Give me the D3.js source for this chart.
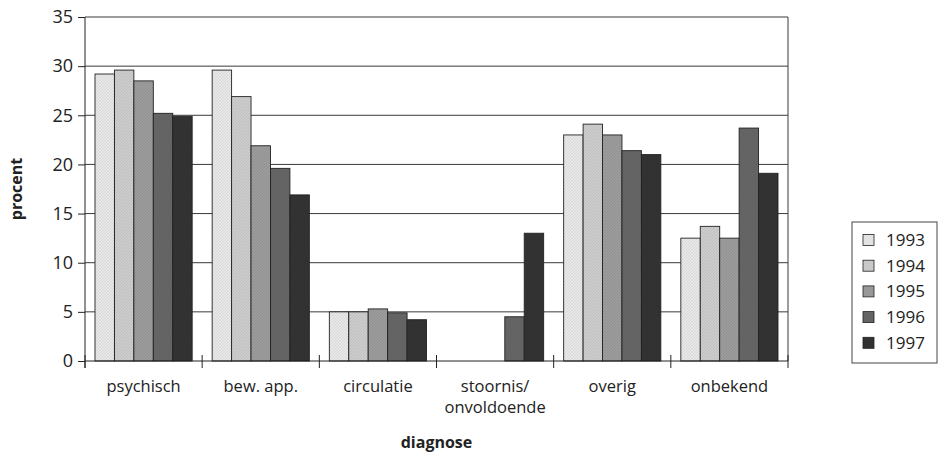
<!DOCTYPE html>
<html><head><meta charset="utf-8">
<script src="https://cdn.jsdelivr.net/npm/d3@7"></script>
<style>body{margin:0;background:#fff}svg{display:block}text{font-family:"Open Sans",sans-serif;fill:#222}</style>
</head><body><svg id="c" width="938" height="458"></svg>
<script>
const categories = ["psychisch","bew. app.","circulatie","stoornis/\nonvoldoende","overig","onbekend"];
const years = ["1993","1994","1995","1996","1997"];
const v1993 = [29.2, 29.6, 5.0, 0, 23.0, 12.5];
const v1994 = [29.6, 26.9, 5.0, 0, 24.1, 13.7];
const v1995 = [28.5, 21.9, 5.3, 0, 23.0, 12.5];
const v1996 = [25.2, 19.6, 4.9, 4.5, 21.4, 23.7];
const v1997 = [24.9, 16.9, 4.2, 13.0, 21.0, 19.1];
const yTicks = [0,5,10,15,20,25,30,35];
const colors = ["#e8e8e8","#cdcdcd","#9c9c9c","#666666","#333333"];

const series = [v1993,v1994,v1995,v1996,v1997];
const svg = d3.select("#c");
const L=85, R=788, T=17, B=361;
const x = d3.scaleBand().domain(categories).range([L,R]).paddingInner(0).paddingOuter(0);
const x1 = d3.scaleBand().domain(years).range([10, x.bandwidth()-10]).padding(0);
const y = d3.scaleLinear().domain([0,35]).range([B,T]);

const defs = svg.append("defs");
colors.forEach((c,i)=>{
  const p = defs.append("pattern").attr("id","p"+i).attr("width",3).attr("height",3).attr("patternUnits","userSpaceOnUse");
  p.append("rect").attr("width",3).attr("height",3).attr("fill",c);
  p.append("path").attr("d","M0,3L3,0").attr("stroke", d3.color(c).darker(0.3)).attr("stroke-width",0.7);
});

svg.append("g").selectAll("line").data(yTicks.filter(d=>d>0)).join("line")
  .attr("x1",L).attr("x2",R).attr("y1",d=>y(d)).attr("y2",d=>y(d))
  .attr("stroke","#3a3a3a").attr("stroke-width",1);
svg.append("line").attr("x1",R).attr("x2",R).attr("y1",T).attr("y2",B).attr("stroke","#3a3a3a");

const g = svg.append("g");
categories.forEach((cat,ci)=>{
  years.forEach((yr,si)=>{
    const v = series[si][ci];
    if(v<=0) return;
    g.append("rect").attr("x",x(cat)+x1(yr)).attr("y",y(v)).attr("width",x1.bandwidth()).attr("height",B-y(v))
      .attr("fill","url(#p"+si+")").attr("stroke","#222").attr("stroke-width",0.9);
  });
});

const ya = svg.append("g").attr("transform",`translate(${L},0)`).call(d3.axisLeft(y).tickValues(yTicks).tickSize(7).tickPadding(5));
ya.select(".domain").attr("d",`M0,${T}V${B+7}`).attr("stroke","#222");
ya.selectAll(".tick line").attr("stroke","#222");
ya.selectAll("text").style("font-size","18px").attr("fill","#333");

svg.append("line").attr("x1",L).attr("x2",R).attr("y1",B).attr("y2",B).attr("stroke","#222");
const bounds = categories.map(c=>x(c)).concat([R]);
svg.append("g").selectAll("line").data(bounds).join("line")
  .attr("x1",d=>d).attr("x2",d=>d).attr("y1",B-6).attr("y2",B+7).attr("stroke","#222");
const labelLines = [];
categories.forEach(c=>c.split("\n").forEach((l,i)=>labelLines.push({c,l,i})));
svg.append("g").selectAll("text").data(labelLines).join("text")
  .attr("x",d=>x(d.c)+x.bandwidth()/2).attr("y",d=>392+d.i*21).attr("text-anchor","middle")
  .style("font-size","16.5px").text(d=>d.l);

svg.append("text").attr("x",(L+R)/2).attr("y",448).attr("text-anchor","middle").style("font-size","16px").style("font-weight","bold").text("diagnose");
svg.append("text").attr("transform",`translate(22,${(T+B)/2}) rotate(-90)`).attr("text-anchor","middle").style("font-size","16px").style("font-weight","bold").text("procent");

const lg = svg.append("g");
lg.append("rect").attr("x",852).attr("y",222).attr("width",85).attr("height",141).attr("fill","#fff").attr("stroke","#444");
years.forEach((yr,i)=>{
  const cy = 240 + i*25.7;
  lg.append("rect").attr("x",863).attr("y",cy-5.5).attr("width",11).attr("height",11).attr("fill","url(#p"+i+")").attr("stroke","#222").attr("stroke-width",0.8);
  lg.append("text").attr("x",886).attr("y",cy+6).style("font-size","17px").text(yr);
});
</script></body></html>
